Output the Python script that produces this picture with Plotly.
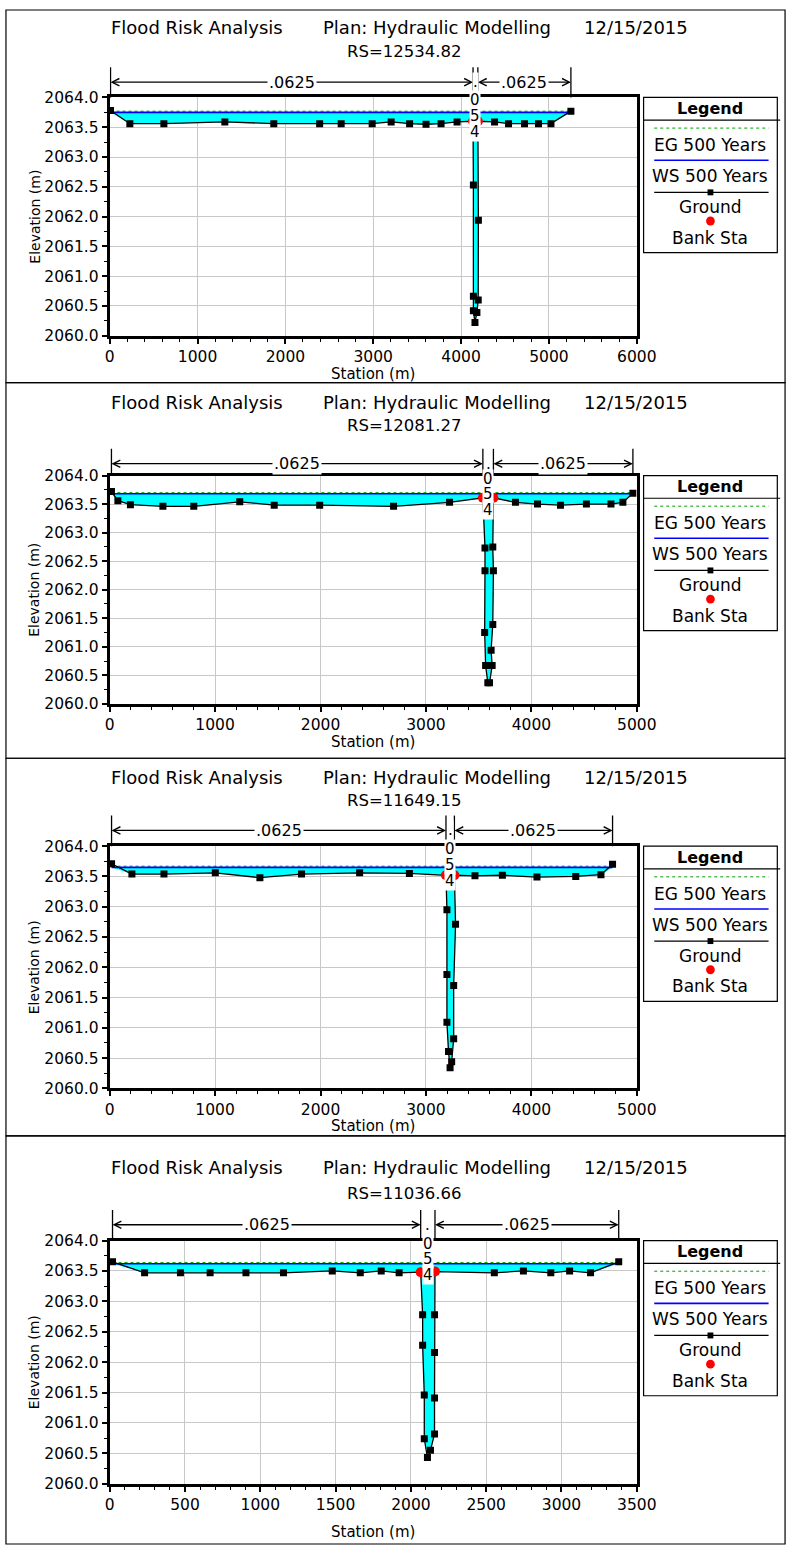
import plotly.graph_objects as go

FONT = "DejaVu Sans"
W, H = 807, 1555

title_left = "Flood Risk Analysis"
title_mid = "Plan: Hydraulic Modelling"
title_right = "12/15/2015"
legend_title = "Legend"
legend_labels = ["EG 500 Years", "WS 500 Years", "Ground", "Bank Sta"]
x_title = "Station (m)"
y_title = "Elevation (m)"

rs_names = ["RS=12534.82", "RS=12081.27", "RS=11649.15", "RS=11036.66"]

# ---- RS 12534.82 ----
sta_1 = [10, 230, 617, 1311, 1868, 2390, 2635, 2988, 3204, 3414, 3601, 3772, 3954,
         4136, 4140, 4140, 4140, 4158, 4180, 4195, 4197, 4191,
         4381, 4540, 4722, 4881, 5023, 5250]
elev_1 = [2063.78, 2063.56, 2063.56, 2063.59, 2063.56, 2063.56, 2063.56, 2063.56, 2063.59,
          2063.56, 2063.55, 2063.56, 2063.59,
          2063.60, 2062.53, 2060.66, 2060.42, 2060.22, 2060.39, 2060.60, 2061.94, 2063.60,
          2063.59, 2063.56, 2063.56, 2063.56, 2063.56, 2063.77]
bank_sta_1 = [4136, 4191]
bank_elev_1 = [2063.60, 2063.60]
ws_1 = 2063.75
eg_1 = 2063.77

# ---- RS 12081.27 ----
sta_2 = [17, 78, 197, 505, 798, 1234, 1561, 1992, 2693, 3224,
         3540, 3560, 3560, 3557, 3566, 3587, 3603, 3628, 3618, 3634, 3640, 3634, 3640,
         3849, 4058, 4276, 4522, 4755, 4868, 4963]
elev_2 = [2063.72, 2063.56, 2063.49, 2063.46, 2063.46, 2063.54, 2063.48, 2063.48, 2063.46, 2063.53,
          2063.61, 2062.73, 2062.33, 2061.25, 2060.67, 2060.37, 2060.37, 2060.67, 2060.94,
          2061.39, 2062.33, 2062.75, 2063.61,
          2063.53, 2063.50, 2063.48, 2063.50, 2063.50, 2063.53, 2063.69]
bank_sta_2 = [3540, 3640]
bank_elev_2 = [2063.61, 2063.61]
ws_2 = 2063.68
eg_2 = 2063.70

# ---- RS 11649.15 ----
sta_3 = [18, 211, 515, 1002, 1425, 1820, 2371, 2843,
         3190, 3199, 3199, 3199, 3214, 3229, 3244, 3263, 3263, 3281, 3270,
         3465, 3725, 4053, 4421, 4660, 4770]
elev_3 = [2063.71, 2063.54, 2063.54, 2063.56, 2063.48, 2063.54, 2063.56, 2063.55,
          2063.52, 2062.95, 2061.88, 2061.09, 2060.61, 2060.34, 2060.44, 2060.82, 2061.70,
          2062.71, 2063.52,
          2063.51, 2063.52, 2063.49, 2063.50, 2063.53, 2063.70]
bank_sta_3 = [3190, 3270]
bank_elev_3 = [2063.52, 2063.52]
ws_3 = 2063.65
eg_3 = 2063.67

# ---- RS 11036.66 ----
sta_4 = [19, 232, 470, 667, 905, 1154, 1478, 1664, 1803, 1922,
         2065, 2078, 2078, 2089, 2089, 2110, 2130, 2157, 2157, 2157, 2157, 2160,
         2554, 2747, 2929, 3054, 3193, 3380]
elev_4 = [2063.65, 2063.47, 2063.47, 2063.47, 2063.47, 2063.47, 2063.50, 2063.47, 2063.50, 2063.47,
          2063.48, 2062.78, 2062.28, 2061.46, 2060.74, 2060.43, 2060.55, 2060.82, 2061.41,
          2062.16, 2062.78, 2063.49,
          2063.47, 2063.50, 2063.47, 2063.50, 2063.47, 2063.65]
bank_sta_4 = [2065, 2160]
bank_elev_4 = [2063.48, 2063.49]
ws_4 = 2063.62
eg_4 = 2063.64

# Manning's n (left overbank, channel, right overbank)
n_values = [".0625", ".054", ".0625"]

x_max = [6000, 5000, 5000, 3500]
x_dtick = [1000, 1000, 1000, 500]
x_minor = [200, 200, 200, 100]
y_range = [2060, 2064]

sections = [
    (sta_1, elev_1, bank_sta_1, bank_elev_1, ws_1, eg_1),
    (sta_2, elev_2, bank_sta_2, bank_elev_2, ws_2, eg_2),
    (sta_3, elev_3, bank_sta_3, bank_elev_3, ws_3, eg_3),
    (sta_4, elev_4, bank_sta_4, bank_elev_4, ws_4, eg_4),
]

# Page layout of each panel, in pixels from the top of the page
frames = [
    dict(box=(1, 378), title=19, rs=43, bracket=74, top=89.5, bottom=330.5, xt=369),
    dict(box=(378, 758), title=398, rs=421, bracket=460, top=472, bottom=703, xt=742),
    dict(box=(758, 1140), title=778, rs=801, bracket=831, top=847, bottom=1092, xt=1130),
    dict(box=(1140, 1553), title=1172, rs=1198, bracket=1230, top=1246, bottom=1492, xt=1541),
]
PX_L, PX_R = 108, 652
LEG_L, LEG_R = 659, 797


def xp(p):
    return p / W


def yp(p):
    return 1 - p / H


fig = go.Figure()
shapes, annotations = [], []
layout_axes = {}

for i, ((sta, elev, bsta, belev, ws, eg), fr) in enumerate(zip(sections, frames)):
    k = "" if i == 0 else str(i + 1)
    xr, yr = "x" + k, "y" + k

    # water area: ground clipped at the water surface, closed along the surface
    wet = [min(e, ws) for e in elev]
    poly_x = list(sta) + [sta[-1], sta[0]]
    poly_y = wet + [ws, ws]
    fig.add_trace(go.Scatter(x=poly_x, y=poly_y, fill="toself", fillcolor="#00ffff",
                             mode="lines", line=dict(width=0, color="rgba(0,0,0,0)"),
                             xaxis=xr, yaxis=yr, hoverinfo="skip", showlegend=False))
    fig.add_trace(go.Scatter(x=[sta[0], sta[-1]], y=[eg, eg], mode="lines",
                             line=dict(color="#00a000", width=1, dash="dot"),
                             xaxis=xr, yaxis=yr, showlegend=False))
    fig.add_trace(go.Scatter(x=[sta[0], sta[-1]], y=[ws, ws], mode="lines",
                             line=dict(color="#0000ff", width=1.6),
                             xaxis=xr, yaxis=yr, showlegend=False))
    fig.add_trace(go.Scatter(x=sta, y=elev, mode="lines+markers",
                             line=dict(color="black", width=1.3),
                             marker=dict(symbol="square", size=7, color="black"),
                             xaxis=xr, yaxis=yr, showlegend=False))
    fig.add_trace(go.Scatter(x=bsta, y=belev, mode="markers",
                             marker=dict(symbol="circle", size=10, color="#ff0000"),
                             xaxis=xr, yaxis=yr, showlegend=False))

    ytop, ybot = fr["top"], fr["bottom"]
    tickfont = dict(family=FONT, size=15.5, color="black")
    layout_axes["xaxis" + k] = dict(
        domain=[xp(PX_L), xp(PX_R)], range=[0, x_max[i]], anchor=yr,
        tick0=0, dtick=x_dtick[i], ticks="outside", ticklen=5, tickwidth=1.5,
        tickcolor="black", showline=True, linewidth=3, linecolor="black", mirror=True,
        showgrid=True, gridcolor="#c8c8c8", gridwidth=1, zeroline=False,
        tickfont=tickfont,
        minor=dict(dtick=x_minor[i], tick0=0, ticks="outside", ticklen=3,
                   tickcolor="black", tickwidth=1, showgrid=False),
        fixedrange=True)
    layout_axes["yaxis" + k] = dict(
        domain=[yp(ybot), yp(ytop)], range=y_range, anchor=xr,
        tick0=2060, dtick=0.5, tickformat=".1f", ticks="outside", ticklen=5, tickwidth=1.5,
        tickcolor="black", showline=True, linewidth=3, linecolor="black", mirror=True,
        showgrid=True, gridcolor="#c8c8c8", gridwidth=1, zeroline=False,
        tickfont=tickfont,
        minor=dict(dtick=0.25, tick0=2060, ticks="outside", ticklen=3,
                   tickcolor="black", tickwidth=1, showgrid=False),
        fixedrange=True)

    # panel frame
    b0, b1 = fr["box"]
    shapes.append(dict(type="rect", xref="paper", yref="paper", x0=xp(1), x1=xp(805),
                       y0=yp(b1), y1=yp(b0), line=dict(color="black", width=1.2)))

    # heading
    tf = dict(family=FONT, size=18, color="black")
    for txt, left in ((title_left, 107), (title_mid, 326), (title_right, 595)):
        annotations.append(dict(text=txt, xref="paper", yref="paper", x=xp(left), y=yp(fr["title"]),
                                xanchor="left", yanchor="middle", showarrow=False, font=tf))
    annotations.append(dict(text=rs_names[i], xref="paper", yref="paper", x=xp(412), y=yp(fr["rs"]),
                            xanchor="center", yanchor="middle", showarrow=False,
                            font=dict(family=FONT, size=16.5, color="black")))

    # axis titles
    annotations.append(dict(text=x_title, xref="paper", yref="paper", x=xp((PX_L + PX_R) / 2),
                            y=yp(fr["xt"]), xanchor="center", yanchor="middle", showarrow=False,
                            font=dict(family=FONT, size=15, color="black")))
    annotations.append(dict(text=y_title, xref="paper", yref="paper", x=xp(30),
                            y=yp((ytop + ybot) / 2), xanchor="center", yanchor="middle",
                            showarrow=False, textangle=-90,
                            font=dict(family=FONT, size=14, color="black")))

    # Manning's n brackets
    lb, rb = bsta
    ends = [sta[0], lb, rb, sta[-1]]
    yb = yp(fr["bracket"])
    for s in ends:
        shapes.append(dict(type="line", xref=xr, yref="paper", x0=s, x1=s,
                           y0=yp(fr["bracket"] - 15), y1=yp(ytop), line=dict(color="black", width=1.3)))
    arrows, labels = [], []
    for (a, b), nv in (((ends[0], ends[1]), n_values[0]), ((ends[2], ends[3]), n_values[2])):
        mid = (a + b) / 2
        for end in (a, b):
            arrows.append(dict(text="", xref=xr, yref="paper", x=end, y=yb,
                               axref=xr, ax=mid, ayref="pixel", ay=0, showarrow=True,
                               arrowhead=5, arrowsize=1.1, arrowwidth=1.3, arrowcolor="black"))
        labels.append(dict(text=nv, xref=xr, yref="paper", x=mid, y=yb, showarrow=False,
                           xanchor="center", yanchor="middle", bgcolor="white", borderpad=1,
                           font=dict(family=FONT, size=16, color="black")))
    # channel n written vertically between the banks
    cmid = (lb + rb) / 2
    for ch, off in zip(n_values[1], (fr["bracket"], ytop + 3, ytop + 19, ytop + 35)):
        labels.append(dict(text=ch, xref=xr, yref="paper", x=cmid, y=yp(off), showarrow=False,
                           xanchor="center", yanchor="middle", bgcolor="white", borderpad=0,
                           font=dict(family=FONT, size=15, color="black")))
    annotations += arrows + labels

    # legend panel
    lt = ytop
    shapes.append(dict(type="rect", xref="paper", yref="paper", x0=xp(LEG_L), x1=xp(LEG_R),
                       y0=yp(lt + 157), y1=yp(lt), line=dict(color="black", width=1.2),
                       fillcolor="white"))
    shapes.append(dict(type="line", xref="paper", yref="paper", x0=xp(LEG_L), x1=xp(LEG_R + 3),
                       y0=yp(lt + 23), y1=yp(lt + 23), line=dict(color="black", width=1.2)))
    annotations.append(dict(text="<b>%s</b>" % legend_title, xref="paper", yref="paper",
                            x=xp((LEG_L + LEG_R) / 2), y=yp(lt + 11.5), showarrow=False,
                            xanchor="center", yanchor="middle",
                            font=dict(family=FONT, size=16, color="black")))
    sym_styles = [
        dict(color="#00a000", width=1, dash="dot"),
        dict(color="#0000ff", width=1.6),
        dict(color="black", width=1.3),
    ]
    for j, st in enumerate(sym_styles):
        yy = lt + 31 + j * 32.5
        shapes.append(dict(type="line", xref="paper", yref="paper", x0=xp(670), x1=xp(788),
                           y0=yp(yy), y1=yp(yy), line=st))
    gy = lt + 31 + 2 * 32.5
    shapes.append(dict(type="rect", xref="paper", yref="paper", x0=xp(725), x1=xp(731),
                       y0=yp(gy + 3), y1=yp(gy - 3), fillcolor="black", line=dict(width=0)))
    ry = lt + 125
    shapes.append(dict(type="circle", xref="paper", yref="paper", x0=xp(723.5), x1=xp(732.5),
                       y0=yp(ry + 4.5), y1=yp(ry - 4.5), fillcolor="#ff0000", line=dict(width=0)))
    for j, lab in enumerate(legend_labels):
        annotations.append(dict(text=lab, xref="paper", yref="paper", x=xp((LEG_L + LEG_R) / 2),
                                y=yp(lt + 48 + j * 31.3), showarrow=False, xanchor="center",
                                yanchor="middle", font=dict(family=FONT, size=17, color="black")))

fig.update_layout(
    width=W, height=H, margin=dict(l=0, r=0, t=0, b=0),
    paper_bgcolor="white", plot_bgcolor="white", showlegend=False,
    shapes=shapes, annotations=annotations, hovermode=False,
    **layout_axes,
)

fig.write_html("out.html", config={"displayModeBar": False})
